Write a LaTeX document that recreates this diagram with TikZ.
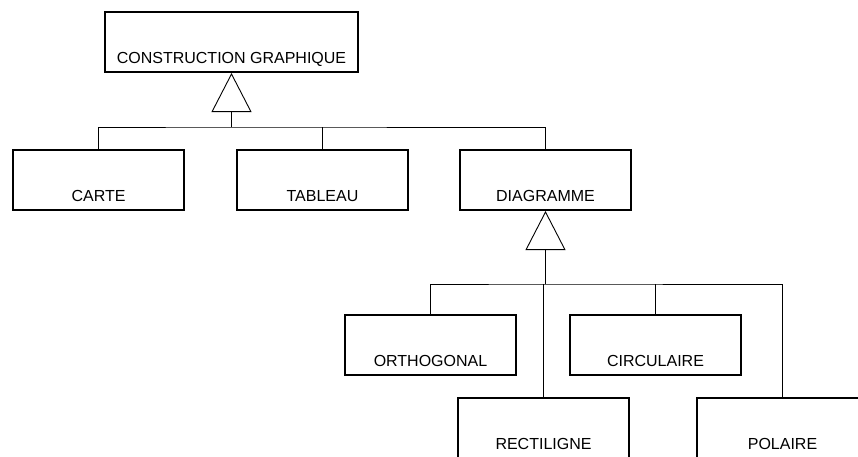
\documentclass[tikz,border=0pt]{standalone}
\usepackage{fontspec}
\setmainfont{Liberation Sans}
\usetikzlibrary{arrows.meta}
\begin{document}
\begin{tikzpicture}[x=1pt,y=-1pt,
  classbox/.style={draw, line width=2pt, anchor=north west, minimum width=171pt,
    inner xsep=0pt, inner ysep=0pt, text height=51pt, text depth=9pt,
    font=\fontsize{16}{19}\selectfont},
  link/.style={line width=0.9pt},
  generalize/.style={link, -{Triangle[open, length=39pt, width=40pt]}}]
\clip (0,0) rectangle (858,456);

% classes
\node[classbox, minimum width=253pt] (graph) at (104,11) {CONSTRUCTION GRAPHIQUE};
\node[classbox] (carte)     at (12,149)  {CARTE};
\node[classbox] (tableau)   at (236,149) {TABLEAU};
\node[classbox] (diagramme) at (459,149) {DIAGRAMME};
\node[classbox] (ortho)     at (344,314) {ORTHOGONAL};
\node[classbox] (circ)      at (569,314) {CIRCULAIRE};
\node[classbox] (recti)     at (457,397) {RECTILIGNE};
\node[classbox] (polaire)   at (696,397) {POLAIRE};

% first level of specialisation
\coordinate (fork1) at (graph.south |- 0,127);
\draw[link] (carte.north) |- (fork1) -| (diagramme.north);
\draw[link] (tableau.north) -- (tableau.north |- fork1);
\draw[generalize] (fork1) -- (graph.south);

% kinds of diagram
\coordinate (fork2) at (diagramme.south |- 0,284);
\draw[link] (ortho.north) |- (fork2) -| (polaire.north);
\draw[link] (circ.north) -- (circ.north |- fork2);
\draw[link] (recti.north) -- (recti.north |- fork2);
\draw[generalize] (fork2) -- (diagramme.south);
\end{tikzpicture}
\end{document}
